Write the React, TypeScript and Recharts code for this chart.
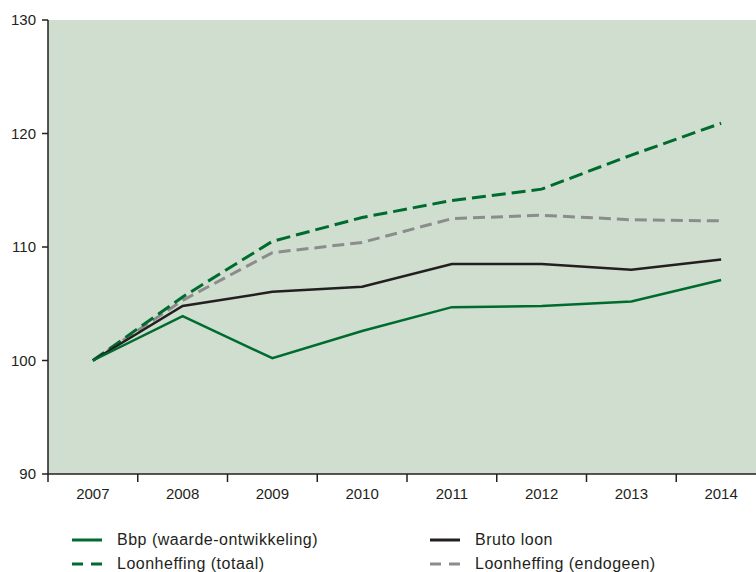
import { CartesianGrid, Line, LineChart, XAxis, YAxis } from "recharts";

const years = [2007, 2008, 2009, 2010, 2011, 2012, 2013, 2014];
const bbp = [100, 103.9, 100.2, 102.6, 104.7, 104.8, 105.2, 107.1];
const brutoLoon = [100, 104.8, 106.05, 106.5, 108.5, 108.5, 108.0, 108.9];
const loonTotaal = [100, 105.6, 110.5, 112.6, 114.1, 115.1, 118.1, 120.9];
const loonEndogeen = [100, 105.3, 109.5, 110.4, 112.5, 112.8, 112.4, 112.3];
const yTicks = [90, 100, 110, 120, 130];
const bandEdges = [2006.5, 2007.5, 2008.5, 2009.5, 2010.5, 2011.5, 2012.5, 2013.5];

const data = years.map((year, i) => ({
  year,
  bbp: bbp[i],
  brutoLoon: brutoLoon[i],
  loonTotaal: loonTotaal[i],
  loonEndogeen: loonEndogeen[i],
}));

const GREEN = "#006b2e";
const BLACK = "#231f20";
const GREY = "#8c8c8c";
const FONT = "'Liberation Sans', Arial, sans-serif";

const CHART_W = 770;
const PLOT_LEFT = 48;
const PLOT_RIGHT_MARGIN = 4;
const BAND = (CHART_W - PLOT_LEFT - PLOT_RIGHT_MARGIN) / years.length;

function XTick(props: any) {
  const { x, y, payload } = props;
  const label = Math.round(payload.value + 0.5);
  return (
    <g>
      <line x1={x} y1={y - 8} x2={x} y2={y} stroke={BLACK} strokeWidth={1.5} />
      <text
        x={x + BAND / 2}
        y={y + 17}
        textAnchor="middle"
        fill={BLACK}
        fontSize={15}
        fontFamily={FONT}
      >
        {label}
      </text>
    </g>
  );
}

const legendItems = [
  { label: "Bbp (waarde-ontwikkeling)", color: GREEN, dashed: false, left: 72, top: 530 },
  { label: "Loonheffing (totaal)", color: GREEN, dashed: true, left: 72, top: 554 },
  { label: "Bruto loon", color: BLACK, dashed: false, left: 430, top: 530 },
  { label: "Loonheffing (endogeen)", color: GREY, dashed: true, left: 430, top: 554 },
];

export default function App() {
  return (
    <div style={{ width: 756, height: 572, overflow: "hidden", position: "relative" }}>
      <style>{"body{margin:0}"}</style>
      <LineChart
        width={CHART_W}
        height={572}
        data={data}
        margin={{ top: 20, right: PLOT_RIGHT_MARGIN, left: 0, bottom: 68 }}
      >
        <CartesianGrid fill="#cfdecf" horizontal={false} vertical={false} />
        <XAxis
          dataKey="year"
          type="number"
          domain={[2006.5, 2014.5]}
          ticks={bandEdges}
          tick={<XTick />}
          tickLine={false}
          axisLine={{ stroke: BLACK, strokeWidth: 1.5 }}
          interval={0}
          height={30}
          allowDataOverflow
        />
        <YAxis
          width={PLOT_LEFT}
          domain={[90, 130]}
          ticks={yTicks}
          interval={0}
          axisLine={{ stroke: BLACK, strokeWidth: 1.5 }}
          tickLine={{ stroke: BLACK, strokeWidth: 1.5 }}
          tickSize={6}
          tickMargin={6}
          tick={{ fill: BLACK, fontSize: 15, fontFamily: FONT }}
        />
        <Line
          dataKey="loonEndogeen"
          stroke={GREY}
          strokeWidth={3}
          strokeDasharray="12 6"
          dot={false}
          type="linear"
          isAnimationActive={false}
        />
        <Line
          dataKey="loonTotaal"
          stroke={GREEN}
          strokeWidth={3}
          strokeDasharray="14 6"
          dot={false}
          type="linear"
          isAnimationActive={false}
        />
        <Line
          dataKey="brutoLoon"
          stroke={BLACK}
          strokeWidth={2.5}
          dot={false}
          type="linear"
          isAnimationActive={false}
        />
        <Line
          dataKey="bbp"
          stroke={GREEN}
          strokeWidth={2.5}
          dot={false}
          type="linear"
          isAnimationActive={false}
        />
      </LineChart>
      {legendItems.map((item) => (
        <div
          key={item.label}
          style={{
            position: "absolute",
            left: item.left,
            top: item.top,
            display: "flex",
            alignItems: "center",
            fontFamily: FONT,
            fontSize: 16,
            letterSpacing: 0.5,
            color: BLACK,
            lineHeight: "20px",
          }}
        >
          <svg width={30} height={6} style={{ marginRight: 15 }}>
            <line
              x1={0}
              y1={3}
              x2={30}
              y2={3}
              stroke={item.color}
              strokeWidth={3}
              strokeDasharray={item.dashed ? "11 8" : undefined}
            />
          </svg>
          <span>{item.label}</span>
        </div>
      ))}
    </div>
  );
}
